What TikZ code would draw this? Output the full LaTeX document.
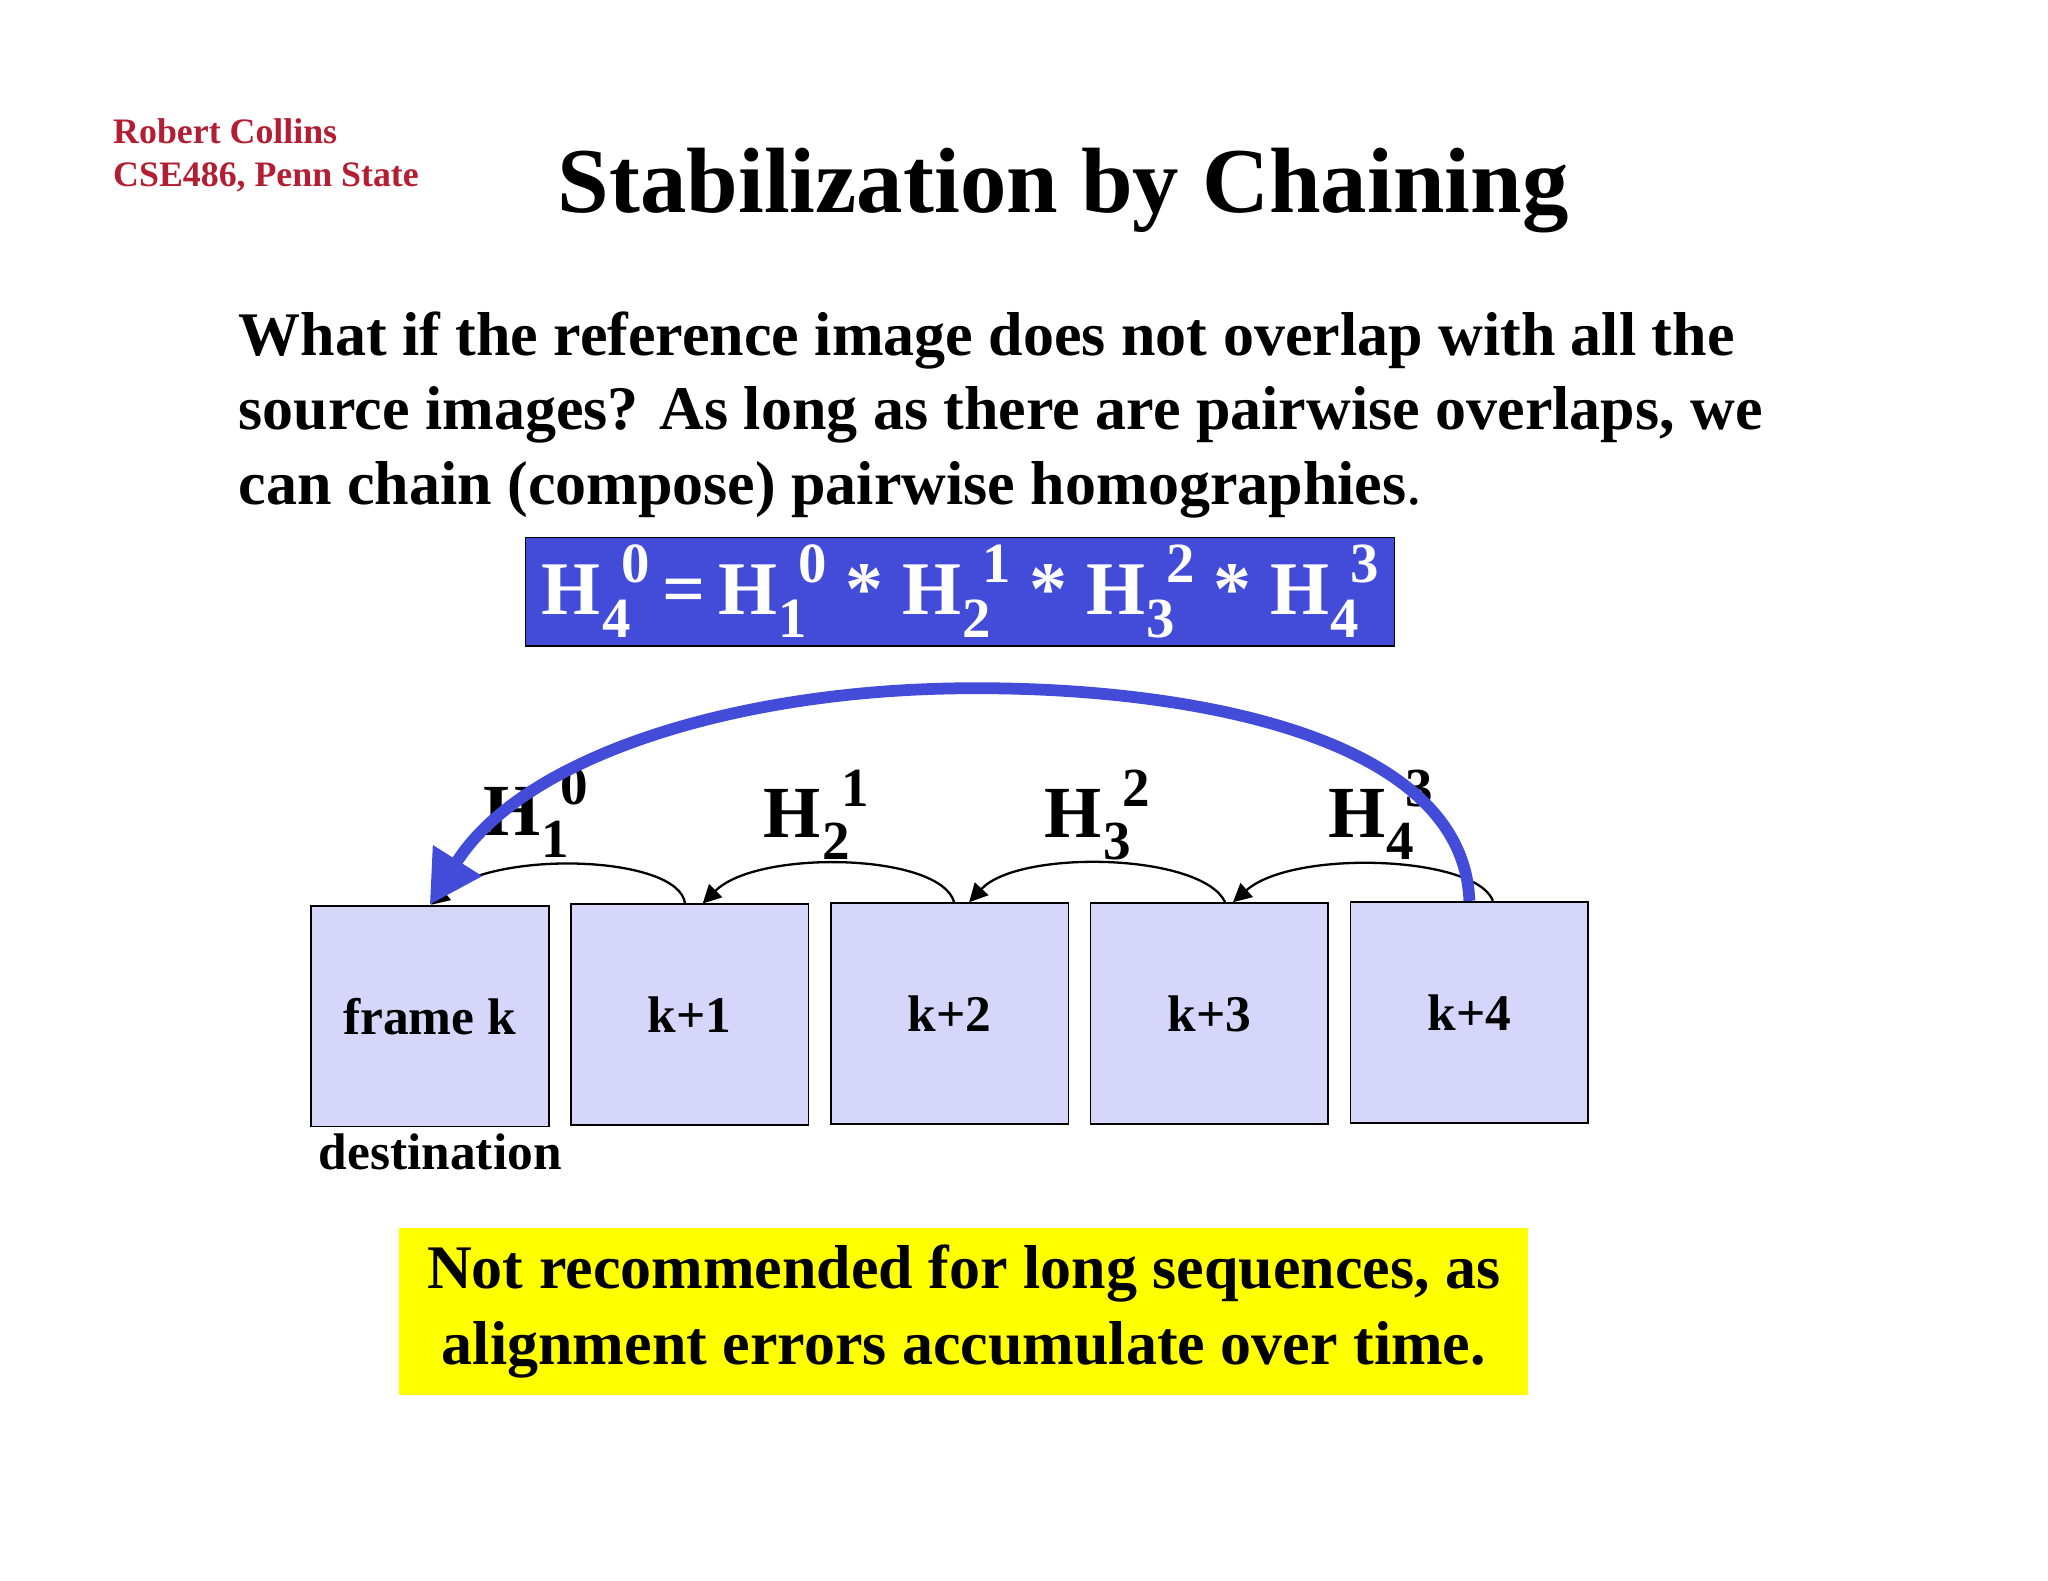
\documentclass[tikz,border=0pt]{standalone}
\usepackage{fontspec}
\setmainfont{Liberation Serif}
\usetikzlibrary{arrows.meta}
\definecolor{frm}{RGB}{214,214,250}
\definecolor{fblue}{RGB}{67,76,217}
\definecolor{ared}{RGB}{180,30,50}
\definecolor{ybox}{RGB}{255,255,0}
\newcommand{\HH}[2]{H\kern0.02em\raisebox{-0.3em}{\scalebox{0.75}{#1}}\kern-0.12em\raisebox{0.42em}{\scalebox{0.75}{#2}}}
\tikzset{frame/.style={draw=black,fill=frm,minimum width=1.82cm,minimum height=1.69cm,inner sep=0pt,font=\fontsize{11.2}{13}\selectfont\bfseries},
hlab/.style={font=\fontsize{16}{18}\selectfont\bfseries},
thin arc/.style={draw,line width=0.5pt,-{Triangle[length=4pt,width=4pt]}}}
\begin{document}
\begin{tikzpicture}[x=0.01cm,y=-0.01cm]
\useasboundingbox[fill=white] (0,0) rectangle (1568,1210);
\node[anchor=north west,align=left,text=ared,font=\fontsize{7.8}{9.5}\selectfont\bfseries,inner sep=0pt] (auth) at (86,90) {Robert Collins\\CSE486, Penn State};
\node[font=\fontsize{20.2}{24}\selectfont\bfseries] (title) at (814,146) {Stabilization by Chaining};
\node[anchor=north west,align=left,inner sep=0pt,font=\fontsize{13.5}{16.2}\selectfont\bfseries] (body) at (182,238) {What if the reference image does not overlap with all the\\source images? As long as there are pairwise overlaps, we\\can chain (compose) pairwise homographies\textmd{.}};
\node[draw=black,fill=fblue,text=white,minimum width=6.65cm,minimum height=0.83cm,inner sep=0pt,font=\fontsize{16.5}{19}\selectfont\bfseries] (formula) at (735,453) {\HH40\,=\,\HH10\ *\ \HH21\ *\ \HH32\ *\ \HH43};
\node[frame] (f0) at (329,778) {frame k};
\node[frame] (f1) at (528,777) {k+1};
\node[frame] (f2) at (727,776) {k+2};
\node[frame] (f3) at (926,776) {k+3};
\node[frame] (f4) at (1125,775) {k+4};
\node[font=\fontsize{11.2}{13}\selectfont\bfseries] (dest) at (337,882) {destination};
\draw[thin arc] ([xshift=-1pt]f1.north) .. controls (520,655) and (380,650) .. ([xshift=0.01cm]f0.north);
\draw[thin arc] ([xshift=1pt]f2.north) .. controls (720,653) and (580,650) .. ([xshift=0.1cm]f1.north);
\draw[thin arc] ([xshift=0.12cm]f3.north) .. controls (920,653) and (780,650) .. ([xshift=0.15cm]f2.north);
\draw[thin arc] ([xshift=0.18cm]f4.north) .. controls (1130,655) and (990,650) .. ([xshift=0.18cm]f3.north);
\node[hlab] (h1) at (410,622) {\HH10};
\node[hlab] (h2) at (625,624) {\HH21};
\node[hlab] (h3) at (840,624) {\HH32};
\node[hlab] (h4) at (1057,624) {\HH43};
\draw[fblue,line width=0.09cm,-{Triangle[length=0.4cm,width=0.42cm]}] (f4.north) .. controls (1120,560) and (900,525) .. (735,527) .. controls (560,529) and (400,580) .. (f0.north);
\node[fill=ybox,minimum width=8.64cm,minimum height=1.28cm,align=center,font=\fontsize{13.5}{16.5}\selectfont\bfseries] (note) at (738,1004) {Not recommended for long sequences, as\\ alignment errors accumulate over time.};
\end{tikzpicture}
\end{document}
